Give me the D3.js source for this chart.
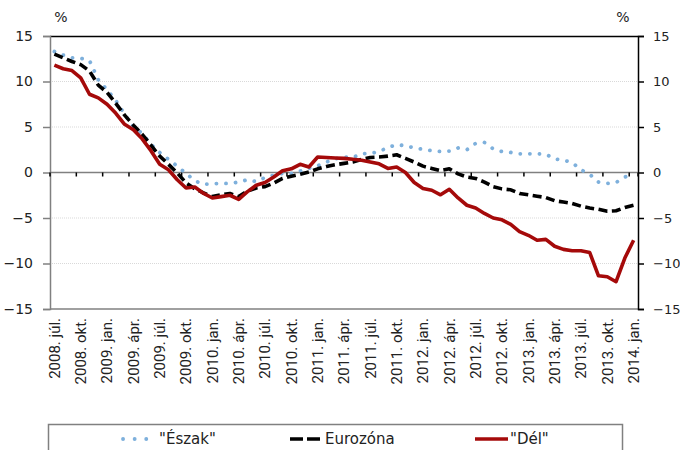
<!DOCTYPE html>
<html>
<head>
<meta charset="utf-8">
<script src="https://cdn.jsdelivr.net/npm/d3@7"></script>
<style>
  body { margin: 0; background: #fff; }
  svg { display: block; }
</style>
</head>
<body>
<svg id="chart" width="680" height="450"></svg>
<script>
// months from 2008. júl. to 2014. jan.
const monthNames = ['jan.', 'febr.', 'márc.', 'ápr.', 'máj.', 'jún.', 'júl.', 'aug.', 'szept.', 'okt.', 'nov.', 'dec.'];
const years = [2008, 2009, 2010, 2011, 2012, 2013, 2014];
const months = [];
years.forEach(y => monthNames.forEach((m, i) => {
    if ((y === 2008 && i < 6) || (y === 2014 && i > 0)) return;
    months.push(`${y}. ${m}`);
}));

const eszak = [13.3, 12.9, 12.6, 12.55, 12.3, 10.2, 9.1, 7.9, 6.4, 5.0, 4.3, 3.1,
    2.2, 1.45, 0.7, -0.1, -0.9, -1.3, -1.25, -1.2, -1.2, -1.05, -0.8, -1.0,
    -0.55, -0.3, -0.1, -0.1, 0.15, 0.45, 0.75, 1.15, 1.5, 1.7, 1.65, 2.05,
    2.1, 2.3, 2.75, 3.05, 2.95, 2.7, 2.55, 2.4, 2.3, 2.35, 2.7, 2.5,
    3.2, 3.3, 2.6, 2.3, 2.2, 2.05, 2.05, 2.05, 2.0, 1.5, 1.35, 1.1,
    0.3, -0.2, -1.05, -1.2, -1.1, -0.5, -0.2];

const eurozona = [13.0, 12.6, 12.2, 11.85, 11.15, 9.6, 8.8, 7.6, 6.3, 5.2, 4.2, 3.0,
    1.8, 0.9, -0.05, -1.15, -1.8, -2.25, -2.65, -2.45, -2.3, -2.65, -2.05, -1.7,
    -1.55, -1.15, -0.65, -0.4, -0.2, 0.05, 0.4, 0.65, 0.85, 1.0, 1.15, 1.45,
    1.65, 1.7, 1.8, 1.95, 1.55, 1.15, 0.7, 0.45, 0.2, 0.4, -0.15, -0.5,
    -0.65, -1.05, -1.55, -1.8, -1.9, -2.3, -2.45, -2.6, -2.75, -3.1, -3.25, -3.4,
    -3.7, -3.9, -4.05, -4.25, -4.2, -3.85, -3.6];

const del = [11.8, 11.4, 11.2, 10.4, 8.6, 8.2, 7.5, 6.5, 5.3, 4.7, 3.7, 2.4,
    0.9, 0.3, -0.8, -1.7, -1.6, -2.3, -2.8, -2.65, -2.5, -2.95, -2.1, -1.4,
    -1.1, -0.5, 0.2, 0.4, 0.9, 0.6, 1.7, 1.65, 1.6, 1.55, 1.45, 1.35,
    1.15, 0.95, 0.45, 0.6, 0.0, -1.1, -1.75, -1.95, -2.45, -1.85, -2.8, -3.6,
    -3.9, -4.5, -5.0, -5.2, -5.7, -6.5, -6.9, -7.45, -7.35, -8.1, -8.45, -8.6,
    -8.6, -8.8, -11.35, -11.45, -12.0, -9.4, -7.45];

const yTicks = [-15, -10, -5, 0, 5, 10, 15];
const gridTicks = [-10, -5, 5, 10];

const pLeft = 50, pRight = 638, pTop = 36, pBottom = 309;
const svg = d3.select('#chart');

const x = d3.scaleBand().domain(months).range([pLeft, pRight]);
const y = d3.scaleLinear().domain([-15, 15]).range([pBottom, pTop]);

// gridlines
svg.append('g').selectAll('line').data(gridTicks).enter().append('line')
    .attr('x1', pLeft).attr('x2', pRight)
    .attr('y1', d => y(d)).attr('y2', d => y(d))
    .attr('stroke', '#d9d9d9').attr('stroke-width', 1).attr('stroke-dasharray', '1,1');

// frame
svg.append('line').attr('x1', pLeft).attr('x2', pRight).attr('y1', pTop + 0.5).attr('y2', pTop + 0.5)
    .attr('stroke', '#000').attr('stroke-width', 1.5);
svg.append('line').attr('x1', pLeft).attr('x2', pRight).attr('y1', pBottom).attr('y2', pBottom)
    .attr('stroke', '#808080').attr('stroke-width', 1.5);

// left axis
const yLeft = svg.append('g').attr('transform', `translate(${pLeft},0)`)
    .call(d3.axisLeft(y).tickValues(yTicks).tickSize(7).tickPadding(10).tickFormat(d3.format('d')));
yLeft.select('.domain').attr('stroke', '#808080').attr('stroke-width', 1.5);
yLeft.selectAll('.tick line').attr('stroke', '#808080').attr('stroke-width', 1.5);
yLeft.selectAll('text').attr('font-size', 14);

// right axis
const yRight = svg.append('g').attr('transform', `translate(${pRight},0)`)
    .call(d3.axisRight(y).tickValues(yTicks).tickSize(6).tickPadding(9).tickFormat(d3.format('d')));
yRight.select('.domain').attr('stroke', '#000').attr('stroke-width', 1.5);
yRight.selectAll('.tick line').attr('stroke', '#000').attr('stroke-width', 1.5);
yRight.selectAll('text').attr('font-size', 13);

[yLeft, yRight].forEach(a => a.selectAll('text')
    .attr('font-family', 'DejaVu Sans, Verdana, sans-serif').attr('fill', '#222'));

// zero line with category ticks
const boundaries = months.filter((m, i) => i % 3 === 0).map(m => x(m)).concat([pRight]);
svg.append('line').attr('x1', pLeft).attr('x2', pRight).attr('y1', y(0)).attr('y2', y(0))
    .attr('stroke', '#808080').attr('stroke-width', 1.5);
svg.append('g').selectAll('line').data(boundaries).enter().append('line')
    .attr('x1', d => d).attr('x2', d => d)
    .attr('y1', y(0)).attr('y2', y(0) + 4)
    .attr('stroke', '#000').attr('stroke-width', 1.5);

// x labels
svg.append('g').selectAll('text').data(months.filter((m, i) => i % 3 === 0)).enter().append('text')
    .attr('transform', d => `translate(${x(d) + x.bandwidth() / 2},318) rotate(-90)`)
    .attr('text-anchor', 'end').attr('dy', '0.35em')
    .attr('font-family', 'Roboto, sans-serif').attr('font-size', 15).attr('fill', '#222')
    .text(d => d);

// % labels
svg.append('text').attr('x', 61).attr('y', 22).attr('text-anchor', 'middle')
    .attr('font-family', 'DejaVu Sans, sans-serif').attr('font-size', 14).attr('fill', '#222').text('%');
svg.append('text').attr('x', 623).attr('y', 22).attr('text-anchor', 'middle')
    .attr('font-family', 'DejaVu Sans, sans-serif').attr('font-size', 14).attr('fill', '#222').text('%');

// series
const series = [
    { name: '"Észak"', values: eszak, color: '#7eb0dc', dash: '0.1,9.5', cap: 'round', width: 3.8 },
    { name: 'Eurozóna', values: eurozona, color: '#000', dash: '9,4.5', cap: 'butt', width: 3.6 },
    { name: '"Dél"', values: del, color: '#a50a0a', dash: null, cap: 'butt', width: 3.6 }
];

const line = d3.line()
    .x((d, i) => x(months[i]) + x.bandwidth() / 2)
    .y(d => y(d));

series.forEach(s => {
    svg.append('path').datum(s.values)
        .attr('d', line)
        .attr('fill', 'none')
        .attr('stroke', s.color)
        .attr('stroke-width', s.width)
        .attr('stroke-linecap', s.cap)
        .attr('stroke-linejoin', 'round')
        .attr('stroke-dasharray', s.dash);
});

// legend
svg.append('rect').attr('x', 48.5).attr('y', 424.5).attr('width', 574).attr('height', 40)
    .attr('fill', 'none').attr('stroke', '#808080').attr('stroke-width', 1.5);

const legendX = [122, 290, 475];
const lg = svg.append('g').selectAll('g').data(series).enter().append('g')
    .attr('transform', (d, i) => `translate(${legendX[i]},439)`);
lg.append('line').attr('x1', d => d.cap === 'round' ? 1 : 0).attr('x2', 33)
    .attr('stroke', d => d.color).attr('stroke-width', d => d.width)
    .attr('stroke-linecap', d => d.cap)
    .attr('stroke-dasharray', d => d.cap === 'round' ? '0.1,11.5' : (d.dash ? '13,4' : null));
lg.append('text').attr('x', (d, i) => i === 0 ? 37 : 35).attr('dy', '0.35em')
    .attr('font-family', 'DejaVu Sans, Verdana, sans-serif').attr('font-size', 15).attr('fill', '#222')
    .text(d => d.name);
</script>
</body>
</html>
